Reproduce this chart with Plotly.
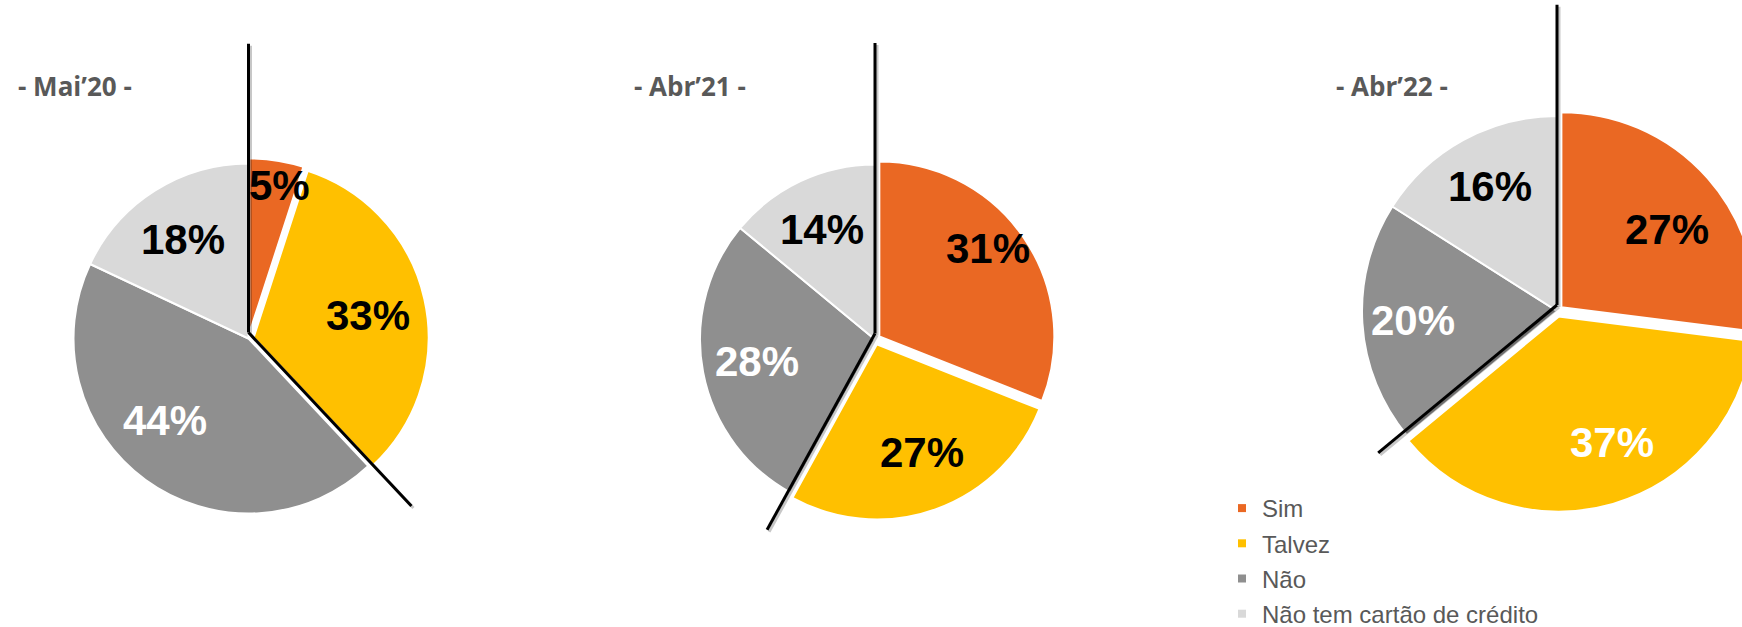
import math
import plotly.graph_objects as go

# ---------------- data ----------------
categories = ["Sim", "Talvez", "Não", "Não tem cartão de crédito"]
periods = ["- Mai’20 -", "- Abr’21 -", "- Abr’22 -"]
mai20 = [5, 33, 44, 18]
abr21 = [31, 27, 28, 14]
abr22 = [27, 37, 20, 16]
series = [mai20, abr21, abr22]

# ---------------- style / layout ----------------
colors = ["#EA6823", "#FFC000", "#8F8F8F", "#D9D9D9"]
label_colors = [
    ["#000000", "#000000", "#FFFFFF", "#000000"],
    ["#000000", "#000000", "#FFFFFF", "#000000"],
    ["#000000", "#FFFFFF", "#FFFFFF", "#000000"],
]
W, H = 1762, 627
PULL = 0.03
pulls = [PULL, PULL, 0, 0]
pie_cx = [248.5, 875.0, 1557.0]
pie_cy = [338.5, 339.5, 311.0]
pie_r = [175.0, 175.0, 195.0]
# label placement: radial fraction of radius and angular shift (deg) from slice middle
label_frac = [[0.895, 0.696, 0.67, 0.676],
              [0.83, 0.70, 0.686, 0.695],
              [0.70, 0.733, 0.74, 0.723]]
label_dang = [[2.6, 1.5, 9.3, -1.2],
              [-4.8, -2.9, 0.0, -0.6],
              [5.0, -6.4, 0.0, 0.4]]
title_x = [75, 690, 1392]
title_y = 86
vline_len = [1.65, 1.66, 1.54]
dline_len = [1.36, 1.28, 1.19]
VERT_DY = -6

def px(x):
    return x / W

def py(y):
    return 1 - y / H

fig = go.Figure()
annotations = []
shapes = []

for k, vals in enumerate(series):
    cx, cy, r = pie_cx[k], pie_cy[k], pie_r[k]
    half = r * (1 + PULL)
    fig.add_trace(go.Pie(
        labels=categories, values=vals, sort=False, direction="clockwise",
        rotation=0, pull=pulls, textinfo="none", showlegend=False,
        hoverinfo="label+percent",
        marker=dict(colors=colors, line=dict(color="#FFFFFF", width=2)),
        domain=dict(x=[px(cx - half), px(cx + half)],
                    y=[py(cy + half), py(cy - half)]),
    ))
    total = sum(vals)
    cum = 0
    for i, v in enumerate(vals):
        theta = 2 * math.pi * (cum + v / 2) / total + math.radians(label_dang[k][i])
        cum += v
        d = label_frac[k][i] * r
        lx = cx + d * math.sin(theta)
        ly = cy - d * math.cos(theta)
        annotations.append(dict(
            x=px(lx), y=py(ly), xref="paper", yref="paper",
            text=f"<b>{v}%</b>", showarrow=False, xanchor="center", yanchor="middle",
            font=dict(family="Liberation Sans, Arial", size=42, color=label_colors[k][i]),
        ))
    # title
    annotations.append(dict(
        x=px(title_x[k]), y=py(title_y), xref="paper", yref="paper",
        text=f"<b>{periods[k]}</b>", showarrow=False, xanchor="center", yanchor="middle",
        font=dict(family="Open Sans", size=26, color="#595959"),
    ))
    # decorative boundary lines around "Sim + Talvez"
    vx, vy = cx, cy + VERT_DY
    phi = 2 * math.pi * (vals[0] + vals[1]) / total
    top = (vx, vy - vline_len[k] * r)
    dend = (vx + dline_len[k] * r * math.sin(phi), vy - dline_len[k] * r * math.cos(phi))
    for off, col in [(2, "rgba(0,0,0,0.22)"), (0, "#000000")]:
        shapes.append(dict(type="line", xref="paper", yref="paper",
                           x0=px(top[0] + off), y0=py(top[1] + off),
                           x1=px(vx + off), y1=py(vy + off),
                           line=dict(color=col, width=3)))
        shapes.append(dict(type="line", xref="paper", yref="paper",
                           x0=px(vx + off), y0=py(vy + off),
                           x1=px(dend[0] + off), y1=py(dend[1] + off),
                           line=dict(color=col, width=3)))

# legend entries
for name, col in zip(categories, colors):
    fig.add_trace(go.Scatter(x=[None], y=[None], mode="markers", name=name,
                             legendgroup=name,
                             marker=dict(symbol="square", size=8, color=col),
                             showlegend=True, hoverinfo="skip"))

fig.update_layout(
    width=W, height=H,
    margin=dict(l=0, r=0, t=0, b=0, autoexpand=False),
    paper_bgcolor="#FFFFFF", plot_bgcolor="#FFFFFF",
    xaxis=dict(visible=False), yaxis=dict(visible=False),
    annotations=annotations, shapes=shapes,
    legend=dict(x=px(1222), y=py(486), xanchor="left", yanchor="top",
                font=dict(family="Liberation Sans, Arial", size=24, color="#595959"),
                bgcolor="rgba(0,0,0,0)", borderwidth=0, tracegroupgap=1),
)

fig.write_html("out.html", include_plotlyjs=True,
               post_script="document.documentElement.style.overflow='hidden';"
                           "document.body.style.overflow='hidden';"
                           "document.body.style.margin='0';")
